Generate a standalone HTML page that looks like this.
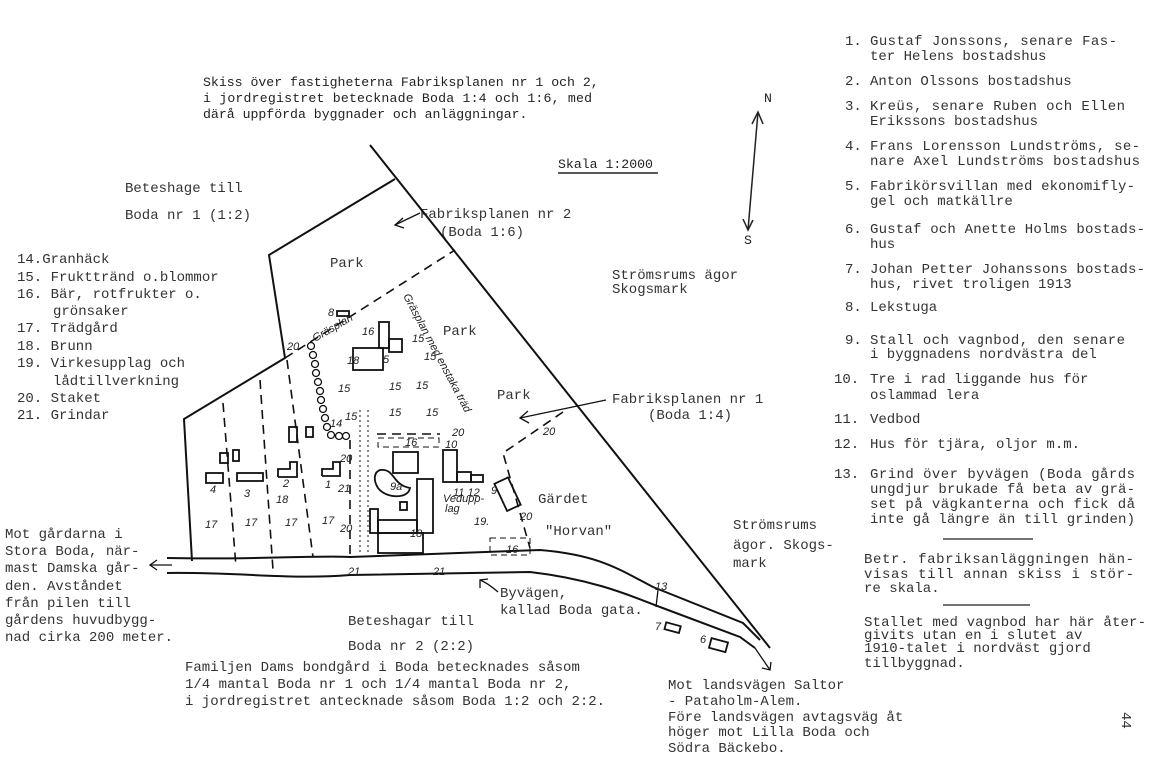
<!DOCTYPE html>
<html><head><meta charset="utf-8"><style>
html,body{margin:0;padding:0;background:#fff;}
svg{display:block;}
text{font-family:"Liberation Mono",monospace;fill:#222;}
.t{font-size:13.2px;}
.r{font-size:14px;fill:#333;}
.h{font-family:"Liberation Sans",sans-serif;font-size:11px;font-style:italic;fill:#222;}
</style></head><body>
<svg width="1153" height="767" viewBox="0 0 1153 767" xmlns="http://www.w3.org/2000/svg">
<rect width="1153" height="767" fill="#fff"/>
<!-- Title -->
<text class="t" x="203" y="86">Skiss över fastigheterna Fabriksplanen nr 1 och 2,</text>
<text class="t" x="203" y="102" textLength="389">i jordregistret betecknade Boda 1:4 och 1:6, med</text>
<text class="t" x="203" y="118">därå uppförda byggnader och anläggningar.</text>
<text class="t" x="558" y="168">Skala 1:2000</text>
<line x1="558" y1="173" x2="658" y2="173" stroke="#222" stroke-width="1.5"/>
<!-- N-S arrow -->
<text class="t" x="764" y="102">N</text>
<text class="t" x="744" y="244">S</text>
<line x1="758" y1="112" x2="748" y2="230" stroke="#222" stroke-width="1.5"/>
<polyline points="752,124 758,112 763,124" fill="none" stroke="#222" stroke-width="1.5"/>
<polyline points="743,219 748,230 753,220" fill="none" stroke="#222" stroke-width="1.5"/>

<!-- Right column -->
<g class="r">
<text class="r" x="845" y="45">1.</text><text class="r" x="870" y="45" textLength="247">Gustaf Jonssons, senare Fas-</text>
<text class="r" x="870" y="60">ter Helens bostadshus</text>
<text class="r" x="845" y="85">2.</text><text class="r" x="870" y="85">Anton Olssons bostadshus</text>
<text class="r" x="845" y="110">3.</text><text class="r" x="870" y="110" textLength="255">Kreüs, senare Ruben och Ellen</text>
<text class="r" x="870" y="125">Erikssons bostadshus</text>
<text class="r" x="845" y="150">4.</text><text class="r" x="870" y="150" textLength="270">Frans Lorensson Lundströms, se-</text>
<text class="r" x="870" y="165" textLength="270">nare Axel Lundströms bostadshus</text>
<text class="r" x="845" y="190">5.</text><text class="r" x="870" y="190" textLength="265">Fabrikörsvillan med ekonomifly-</text>
<text class="r" x="870" y="205">gel och matkällre</text>
<text class="r" x="845" y="233">6.</text><text class="r" x="870" y="233" textLength="275">Gustaf och Anette Holms bostads-</text>
<text class="r" x="870" y="248">hus</text>
<text class="r" x="845" y="273">7.</text><text class="r" x="870" y="273" textLength="275">Johan Petter Johanssons bostads-</text>
<text class="r" x="870" y="288">hus, rivet troligen 1913</text>
<text class="r" x="845" y="311">8.</text><text class="r" x="870" y="311">Lekstuga</text>
<text class="r" x="845" y="344">9.</text><text class="r" x="870" y="344" textLength="255">Stall och vagnbod, den senare</text>
<text class="r" x="870" y="358">i byggnadens nordvästra del</text>
<text class="r" x="834" y="383">10.</text><text class="r" x="870" y="383">Tre i rad liggande hus för</text>
<text class="r" x="870" y="399">oslammad lera</text>
<text class="r" x="834" y="423">11.</text><text class="r" x="870" y="423">Vedbod</text>
<text class="r" x="834" y="448">12.</text><text class="r" x="870" y="448">Hus för tjära, oljor m.m.</text>
<text class="r" x="834" y="478">13.</text><text class="r" x="870" y="478" textLength="265">Grind över byvägen (Boda gårds</text>
<text class="r" x="870" y="493" textLength="265">ungdjur brukade få beta av grä-</text>
<text class="r" x="870" y="508" textLength="265">set på vägkanterna och fick då</text>
<text class="r" x="870" y="523" textLength="265">inte gå längre än till grinden)</text>
<text class="r" x="864" y="563" textLength="270">Betr. fabriksanläggningen hän-</text>
<text class="r" x="864" y="578" textLength="270">visas till annan skiss i stör-</text>
<text class="r" x="864" y="592">re skala.</text>
<text class="r" x="864" y="626" textLength="282">Stallet med vagnbod har här åter-</text>
<text class="r" x="864" y="639">givits utan en i slutet av</text>
<text class="r" x="864" y="652">1910-talet i nordväst gjord</text>
<text class="r" x="864" y="667">tillbyggnad.</text>
</g>
<line x1="943" y1="539" x2="1033" y2="539" stroke="#222" stroke-width="1.3"/>
<line x1="943" y1="605" x2="1030" y2="605" stroke="#222" stroke-width="1.3"/>

<!-- Left legend -->
<g>
<text class="r" x="17" y="263">14.Granhäck</text>
<text class="r" x="17" y="281">15. Frukttränd o.blommor</text>
<text class="r" x="17" y="298">16. Bär, rotfrukter o.</text>
<text class="r" x="53" y="315">grönsaker</text>
<text class="r" x="17" y="332">17. Trädgård</text>
<text class="r" x="17" y="350">18. Brunn</text>
<text class="r" x="17" y="367">19. Virkesupplag och</text>
<text class="r" x="53" y="385">lådtillverkning</text>
<text class="r" x="17" y="402">20. Staket</text>
<text class="r" x="17" y="419">21. Grindar</text>
</g>
<g>
<text class="r" x="5" y="538">Mot gårdarna i</text>
<text class="r" x="5" y="555">Stora Boda, när-</text>
<text class="r" x="5" y="572">mast Damska går-</text>
<text class="r" x="5" y="590">den. Avståndet</text>
<text class="r" x="5" y="607">från pilen till</text>
<text class="r" x="5" y="624">gårdens huvudbygg-</text>
<text class="r" x="5" y="641">nad cirka 200 meter.</text>
</g>

<!-- Area labels -->
<text class="r" x="125" y="192">Beteshage till</text>
<text class="r" x="125" y="219">Boda nr 1 (1:2)</text>
<text class="r" x="420" y="218">Fabriksplanen nr 2</text>
<text class="r" x="440" y="236">(Boda 1:6)</text>
<text class="r" x="330" y="267">Park</text>
<text class="r" x="443" y="335">Park</text>
<text class="r" x="497" y="399">Park</text>
<text class="r" x="612" y="279">Strömsrums ägor</text>
<text class="r" x="612" y="293">Skogsmark</text>
<text class="r" x="612" y="403">Fabriksplanen nr 1</text>
<text class="r" x="648" y="419">(Boda 1:4)</text>
<text class="r" x="538" y="503">Gärdet</text>
<text class="r" x="545" y="535">"Horvan"</text>
<text class="r" x="733" y="529">Strömsrums</text>
<text class="r" x="733" y="549">ägor. Skogs-</text>
<text class="r" x="733" y="567">mark</text>
<text class="r" x="500" y="597">Byvägen,</text>
<text class="r" x="500" y="614">kallad Boda gata.</text>
<text class="r" x="348" y="625">Beteshagar till</text>
<text class="r" x="348" y="650">Boda nr 2 (2:2)</text>
<text class="r" x="185" y="671">Familjen Dams bondgård i Boda betecknades såsom</text>
<text class="r" x="185" y="688">1/4 mantal Boda nr 1 och 1/4 mantal Boda nr 2,</text>
<text class="r" x="185" y="705">i jordregistret antecknade såsom Boda 1:2 och 2:2.</text>
<text class="r" x="668" y="689">Mot landsvägen Saltor</text>
<text class="r" x="668" y="705">- Pataholm-Alem.</text>
<text class="r" x="668" y="721">Före landsvägen avtagsväg åt</text>
<text class="r" x="668" y="736">höger mot Lilla Boda och</text>
<text class="r" x="668" y="752">Södra Bäckebo.</text>
<text class="r" x="0" y="0" transform="translate(1122,712) rotate(90)">44</text>

<!-- Map lines -->
<g fill="none" stroke="#111" stroke-width="2">
<line x1="370" y1="145" x2="770" y2="648"/>
<polyline points="395,179 269,255 285,358 184,419 192,561"/>
<path d="M167,558 C250,560 320,555 350,557 L540,550 C600,555 620,570 653,587 L743,623 L760,640"/>
<path d="M167,573 C240,572 290,580 350,575 L530,572 C600,580 640,600 660,607 L740,637 L755,648"/>
</g>
<g fill="none" stroke="#111" stroke-width="1.6" stroke-dasharray="9,6">
<line x1="285" y1="358" x2="455" y2="250"/>
<line x1="223" y1="403" x2="236" y2="567"/>
<line x1="260" y1="380" x2="273" y2="570"/>
<line x1="287" y1="360" x2="313" y2="557"/>
<line x1="350" y1="440" x2="350" y2="556"/>
<polyline points="563,412 503,453 530,548"/>
<line x1="377" y1="434" x2="440" y2="434"/>
</g>
<g fill="none" stroke="#111" stroke-width="1" stroke-dasharray="6,4">
<rect x="378" y="438" width="61" height="9"/>
<rect x="490" y="538" width="40" height="17"/>
<line x1="360" y1="410" x2="360" y2="555" stroke-dasharray="2,3"/>
<line x1="368" y1="410" x2="368" y2="555" stroke-dasharray="2,3"/>
</g>
<!-- arrows -->
<g fill="none" stroke="#111" stroke-width="1.3">
<line x1="420" y1="213" x2="395" y2="225"/><polyline points="403,218 395,225 404,228"/>
<line x1="606" y1="400" x2="520" y2="418"/><polyline points="528,411 520,418 529,423"/>
<path d="M498,592 C490,585 485,582 480,580"/><polyline points="480,588 480,580 488,579"/>
<line x1="172" y1="565" x2="150" y2="565"/><polyline points="157,560 150,565 157,570"/>
<line x1="755" y1="648" x2="770" y2="670"/><polyline points="762,668 770,670 771,662"/>
<line x1="658" y1="590" x2="656" y2="607"/>
</g>
<!-- buildings -->
<g fill="none" stroke="#111" stroke-width="1.8">
<rect x="337" y="311" width="12" height="5"/>
<rect x="353" y="348" width="30" height="22"/>
<rect x="379" y="322" width="10" height="26"/>
<rect x="389" y="339" width="13" height="13"/>
<rect x="206" y="473" width="17" height="10"/>
<rect x="237" y="473" width="26" height="8"/>
<polyline points="278,477 297,477 297,462 290,462 290,469 278,469 278,477"/>
<polyline points="322,476 340,476 340,462 333,462 333,469 322,469 322,476"/>
<rect x="220" y="453" width="8" height="10"/>
<rect x="233" y="450" width="6" height="11"/>
<rect x="289" y="427" width="8" height="15"/>
<rect x="306" y="427" width="7" height="10"/>
<rect x="393" y="452" width="25" height="21"/>
<path d="M380,470 C395,468 392,485 410,488 C408,500 385,498 378,488 C373,480 374,472 380,470Z"/>
<rect x="417" y="479" width="16" height="54"/>
<rect x="370" y="509" width="8" height="24"/>
<rect x="378" y="520" width="39" height="13"/>
<rect x="378" y="533" width="45" height="20"/>
<rect x="400" y="502" width="7" height="8"/>
<rect x="443" y="450" width="14" height="32"/>
<rect x="457" y="472" width="14" height="10"/>
<rect x="471" y="475" width="12" height="7"/>
<rect x="500" y="479" width="15" height="30" transform="rotate(-25 508 494)"/>
<rect x="665" y="624" width="15" height="7" transform="rotate(15 672 628)"/>
<rect x="710" y="640" width="17" height="10" transform="rotate(15 718 645)"/>
</g>
<!-- hedge -->
<g fill="none" stroke="#111" stroke-width="1.3">
<circle cx="311" cy="346" r="3.5"/><circle cx="313" cy="355" r="3.5"/><circle cx="315" cy="364" r="3.5"/>
<circle cx="316" cy="373" r="3.5"/><circle cx="318" cy="382" r="3.5"/><circle cx="320" cy="391" r="3.5"/>
<circle cx="321" cy="400" r="3.5"/><circle cx="323" cy="409" r="3.5"/><circle cx="325" cy="418" r="3.5"/>
<circle cx="327" cy="427" r="3.5"/><circle cx="331" cy="435" r="3.5"/><circle cx="339" cy="436" r="3.5"/><circle cx="346" cy="436" r="3.5"/>
</g>
<!-- small handwritten labels -->
<g class="h">
<text class="h" x="328" y="316">8</text><text class="h" x="362" y="335">16</text><text class="h" x="383" y="363">5</text>
<text class="h" x="347" y="364">18</text><text class="h" x="287" y="350">20</text>
<text class="h" x="412" y="342">15</text><text class="h" x="424" y="360">15</text><text class="h" x="338" y="392">15</text>
<text class="h" x="389" y="390">15</text><text class="h" x="416" y="389">15</text><text class="h" x="345" y="420">15</text>
<text class="h" x="389" y="416">15</text><text class="h" x="426" y="416">15</text><text class="h" x="330" y="427">14</text>
<text class="h" x="452" y="436">20</text><text class="h" x="405" y="446">16</text><text class="h" x="445" y="448">10</text>
<text class="h" x="340" y="462">20</text><text class="h" x="338" y="492">21</text><text class="h" x="325" y="488">1</text>
<text class="h" x="283" y="487">2</text><text class="h" x="244" y="497">3</text><text class="h" x="210" y="493">4</text>
<text class="h" x="276" y="503">18</text><text class="h" x="390" y="490">9a</text><text class="h" x="453" y="496">11 12</text>
<text class="h" x="443" y="502">Vedupp-</text><text class="h" x="445" y="512">lag</text>
<text class="h" x="491" y="494">9</text><text class="h" x="520" y="520">20</text><text class="h" x="474" y="525">19.</text>
<text class="h" x="506" y="553">16</text><text class="h" x="543" y="435">20</text>
<text class="h" x="205" y="528">17</text><text class="h" x="245" y="526">17</text><text class="h" x="285" y="526">17</text><text class="h" x="322" y="524">17</text>
<text class="h" x="340" y="532">20</text><text class="h" x="348" y="575">21</text><text class="h" x="433" y="575">21</text>
<text class="h" x="410" y="537">18</text><text class="h" x="655" y="590">13</text><text class="h" x="655" y="630">7</text><text class="h" x="700" y="643">6</text>
<text class="h" transform="translate(315,342) rotate(-30)">Gräsplan</text>
<text class="h" transform="translate(403,296) rotate(62)">Gräsplan med enstaka träd</text>
</g>
</svg>
</body></html>
